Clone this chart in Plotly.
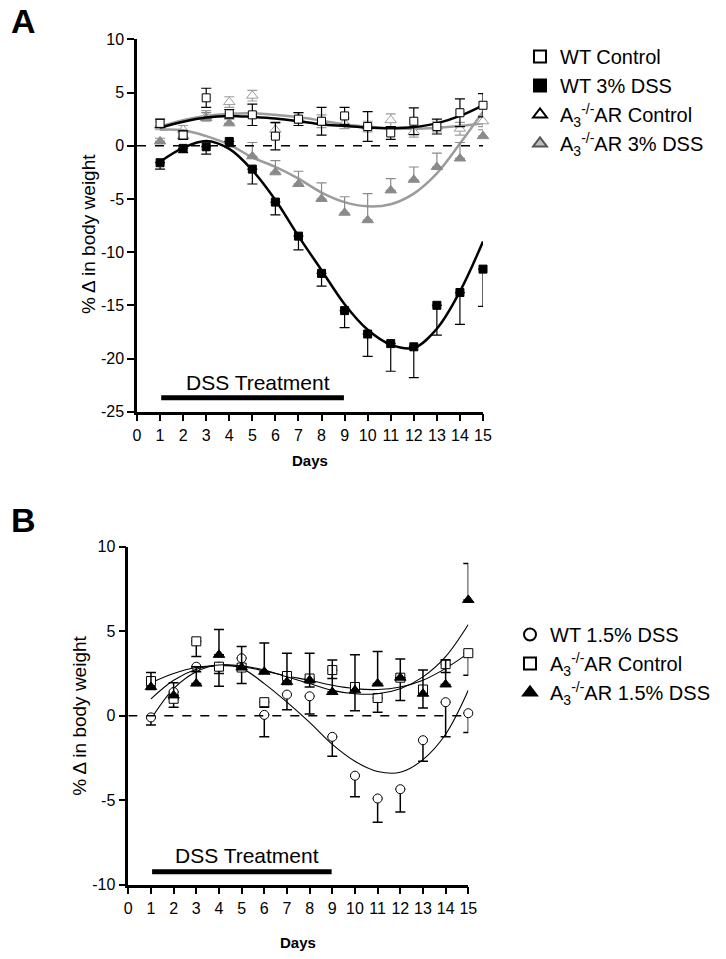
import plotly.graph_objects as go

# ---------------- data ----------------
days = list(range(1, 16))
x_ticks = list(range(0, 16))

# Panel A: means (points) and SEM
a_wt_ctrl = [2.1, 1.0, 4.5, 3.0, 2.9, 0.9, 2.5, 2.3, 2.8, 1.8, 1.2, 2.3, 1.8, 3.1, 3.8]
a_wt_ctrl_err = [0.4, 0.4, 0.9, 0.4, 1.0, 1.3, 0.6, 1.3, 0.8, 1.4, 0.6, 1.25, 0.7, 1.3, 1.1]
a_wt_dss = [-1.6, -0.25, -0.1, 0.4, -2.2, -5.3, -8.5, -12.0, -15.5, -17.7, -18.6, -18.9, -15.0, -13.8, -11.6]
a_wt_dss_err = [0.6, 0.4, 0.7, 0.5, 1.4, 1.2, 1.3, 1.2, 1.6, 2.1, 2.6, 2.9, 2.8, 3.0, 3.5]
a_ko_ctrl = [1.9, 1.5, 2.8, 4.1, 4.7, 1.5, 2.6, 2.3, 2.1, 1.8, 2.4, 1.3, 1.8, 1.6, 2.3]
a_ko_ctrl_err = [0.4, 0.4, 0.5, 0.5, 0.5, 0.6, 0.5, 0.6, 0.5, 0.5, 0.6, 0.5, 0.5, 0.6, 0.5]
a_ko_dss = [0.4, 0.9, 2.6, 2.1, -1.0, -2.5, -3.6, -5.0, -6.3, -7.0, -4.2, -3.2, -2.0, -1.2, 0.9]
a_ko_dss_err = [0.3, 0.5, 0.5, 0.4, 1.3, 1.1, 1.2, 1.5, 1.5, 2.5, 1.1, 1.2, 1.3, 1.5, 0.6]

# Panel A: fitted curves (value at each day)
a_wt_ctrl_fit = [1.7, 2.25, 2.65, 2.8, 2.7, 2.55, 2.3, 2.0, 1.85, 1.7, 1.65, 1.75, 2.1, 2.8, 3.8]
a_wt_dss_fit = [-1.5, -0.2, 0.45, -0.3, -2.3, -5.1, -8.5, -11.7, -14.9, -17.3, -18.7, -19.0, -17.2, -13.7, -9.0]
a_ko_ctrl_fit = [1.8, 2.4, 2.8, 3.0, 3.05, 2.9, 2.7, 2.35, 2.0, 1.8, 1.6, 1.6, 1.7, 1.85, 2.1]
a_ko_dss_fit = [1.5, 1.45, 0.9, 0.1, -1.1, -2.0, -3.1, -4.4, -5.3, -5.7, -5.5, -4.5, -2.6, 0.2, 3.2]

# Panel B: means and SEM
b_wt_dss = [-0.1, 1.4, 2.9, 2.9, 3.4, 0.05, 1.25, 1.15, -1.25, -3.55, -4.9, -4.35, -1.45, 0.8, 0.15]
b_wt_dss_err = [0.45, 0.4, 0.3, 0.4, 0.6, 1.3, 0.9, 1.05, 1.15, 1.25, 1.4, 1.35, 1.25, 2.05, 1.15]
b_ko_ctrl = [2.05, 1.0, 4.4, 2.9, 2.85, 0.8, 2.35, 2.2, 2.7, 1.7, 1.05, 2.25, 1.55, 3.05, 3.7]
b_ko_ctrl_err = [0.5, 0.5, 0.9, 1.15, 0.95, 0.3, 0.5, 0.5, 0.5, 1.4, 0.85, 1.35, 1.1, 0.5, 1.3]
b_ko_dss = [1.7, 1.2, 1.9, 3.6, 2.85, 2.6, 2.0, 2.1, 1.4, 1.5, 1.9, 2.25, 1.3, 1.85, 6.85]
b_ko_dss_err = [0.85, 0.75, 1.0, 1.5, 1.25, 1.7, 1.7, 1.6, 1.9, 2.1, 1.9, 1.1, 1.4, 1.45, 2.15]

# Panel B: fitted curves
b_wt_dss_fit = [-0.2, 1.6, 2.6, 3.0, 2.8, 1.9, 0.8, -0.4, -1.7, -2.7, -3.3, -3.35, -2.6, -1.1, 1.5]
b_ko_ctrl_fit = [1.95, 2.5, 2.85, 2.95, 2.9, 2.65, 2.35, 2.1, 1.8, 1.6, 1.55, 1.7, 2.1, 2.8, 3.7]
b_ko_dss_fit = [1.0, 2.1, 2.75, 3.0, 2.95, 2.7, 2.3, 1.9, 1.5, 1.3, 1.3, 1.6, 2.3, 3.5, 5.4]

a_y_ticks = [-25, -20, -15, -10, -5, 0, 5, 10]
b_y_ticks = [-10, -5, 0, 5, 10]

# treatment period
dss_start, dss_end = 1, 9

FONT = "Arial, Liberation Sans, Helvetica, sans-serif"
GRAY = "#8a8a8a"
LGRAY = "#9c9c9c"

W, H = 726, 959


def dom_x(p0, p1):
    return [p0 / W, p1 / W]


def dom_y(top_px, bot_px):
    return [1 - bot_px / H, 1 - top_px / H]


fig = go.Figure()
zeros = [0] * 15


def add_series(x_ax, y_ax, y, err, fit, direction, symbol, size, line_color,
               fill, lw_marker, err_color, err_w, fit_color, fit_w):
    if direction == "up":
        ey = dict(type="data", symmetric=False, array=err, arrayminus=zeros)
    elif direction == "down":
        ey = dict(type="data", symmetric=False, array=zeros, arrayminus=err)
    else:
        ey = dict(type="data", array=err)
    ey.update(color=err_color, thickness=err_w, width=5)
    fig.add_trace(go.Scatter(x=days, y=fit, mode="lines", xaxis=x_ax, yaxis=y_ax,
                             line=dict(color=fit_color, width=fit_w, shape="spline", smoothing=1),
                             showlegend=False, hoverinfo="skip", cliponaxis=False))
    fig.add_trace(go.Scatter(x=days, y=y, mode="markers", xaxis=x_ax, yaxis=y_ax,
                             error_y=ey, showlegend=False, cliponaxis=False,
                             marker=dict(symbol=symbol, size=size, color=fill,
                                         line=dict(color=line_color, width=lw_marker))))


# ---- Panel A ----
add_series("x", "y", a_ko_ctrl, a_ko_ctrl_err, a_ko_ctrl_fit, "both", "triangle-up", 10, LGRAY,
           "white", 1, LGRAY, 1.2, LGRAY, 2.5)
add_series("x", "y", a_ko_dss, a_ko_dss_err, a_ko_dss_fit, "up", "triangle-up", 10, GRAY,
           GRAY, 1, GRAY, 1.2, LGRAY, 2.5)
add_series("x", "y", a_wt_ctrl, a_wt_ctrl_err, a_wt_ctrl_fit, "both", "square", 8, "black",
           "white", 1, "black", 1.2, "black", 2.5)
add_series("x", "y", a_wt_dss, a_wt_dss_err, a_wt_dss_fit, "down", "square", 8, "black",
           "black", 1, "black", 1.2, "black", 2.5)

# ---- Panel B ----
add_series("x2", "y2", b_wt_dss, b_wt_dss_err, b_wt_dss_fit, "down", "circle", 9, "black",
           "white", 1, "black", 1.5, "black", 1.1)
add_series("x2", "y2", b_ko_ctrl, b_ko_ctrl_err, b_ko_ctrl_fit, "down", "square", 9, "black",
           "white", 1, "black", 1.5, "black", 1.1)
add_series("x2", "y2", b_ko_dss, b_ko_dss_err, b_ko_dss_fit, "up", "triangle-up", 10, "black",
           "black", 1, "black", 1.5, "black", 1.1)


# ---- legend-only entries ----
def leg(name, symbol, fill, line, legend):
    fig.add_trace(go.Scatter(x=[None], y=[None], mode="markers", name=name, legend=legend,
                             marker=dict(symbol=symbol, size=16, color=fill,
                                         line=dict(color=line, width=1.3))))


leg("WT Control", "square", "white", "black", "legend")
leg("WT 3% DSS", "square", "black", "black", "legend")
leg("A<sub>3</sub><sup>-/-</sup>AR Control", "triangle-up", "white", "black", "legend")
leg("A<sub>3</sub><sup>-/-</sup>AR 3% DSS", "triangle-up", "#bdbdbd", "#555555", "legend")
leg("WT 1.5% DSS", "circle", "white", "black", "legend2")
leg("A<sub>3</sub><sup>-/-</sup>AR Control", "square", "white", "black", "legend2")
leg("A<sub>3</sub><sup>-/-</sup>AR 1.5% DSS", "triangle-up", "black", "black", "legend2")

axis_common = dict(showline=True, linecolor="black", linewidth=2.5, ticks="outside",
                   ticklen=7, tickwidth=2, tickcolor="black", showgrid=False, zeroline=False,
                   automargin=False,
                   tickfont=dict(family=FONT, size=16, color="black"))

fig.update_layout(
    width=W, height=H, margin=dict(l=0, r=0, t=0, b=0, autoexpand=False),
    paper_bgcolor="white", plot_bgcolor="white",
    font=dict(family=FONT, color="black"),
    xaxis=dict(domain=dom_x(137, 483), range=[0, 15], tickvals=x_ticks, anchor="y", **axis_common),
    yaxis=dict(domain=dom_y(39.3, 411.7), range=[-25, 10], tickvals=a_y_ticks,
               ticktext=[str(v) for v in a_y_ticks], anchor="x", **axis_common),
    xaxis2=dict(domain=dom_x(128.3, 468.3), range=[0, 15], tickvals=x_ticks, anchor="y2", **axis_common),
    yaxis2=dict(domain=dom_y(546.7, 884.7), range=[-10, 10], tickvals=b_y_ticks,
                ticktext=[str(v) for v in b_y_ticks], anchor="x2", **axis_common),
    legend=dict(x=520 / W, y=1 - 37 / H, xanchor="left", yanchor="top",
                font=dict(family=FONT, size=20, color="black"), bgcolor="rgba(0,0,0,0)",
                itemsizing="constant", tracegroupgap=0),
    legend2=dict(x=510 / W, y=1 - 615 / H, xanchor="left", yanchor="top",
                 font=dict(family=FONT, size=20, color="black"), bgcolor="rgba(0,0,0,0)",
                 itemsizing="constant", tracegroupgap=0),
    showlegend=True,
)

# zero lines & treatment bars
for xr, yr, ybar, ytxt in [("x", "y", -23.7, -22.3), ("x2", "y2", -9.23, -8.3)]:
    fig.add_shape(type="line", xref=xr, yref=yr, x0=0, x1=15, y0=0, y1=0,
                  line=dict(color="black", width=1.5, dash="dash"))
    fig.add_shape(type="line", xref=xr, yref=yr, x0=dss_start + 0.05, x1=dss_end - 0.03,
                  y0=ybar, y1=ybar, line=dict(color="black", width=5))
    fig.add_annotation(xref=xr, yref=yr, x=(dss_start + dss_end) / 2 + 0.25, y=ytxt,
                       text="DSS Treatment", showarrow=False, xanchor="center", yanchor="middle",
                       font=dict(family=FONT, size=21, color="black"))

# axis titles & panel letters
for xpx, ypx in [(88, 234), (80, 715.7)]:
    fig.add_annotation(xref="paper", yref="paper", x=xpx / W, y=1 - ypx / H,
                       text="% Δ in body weight", textangle=-90, showarrow=False,
                       xanchor="center", yanchor="middle",
                       font=dict(family=FONT, size=19, color="black"))
for xpx, ypx in [(310, 460), (298, 942)]:
    fig.add_annotation(xref="paper", yref="paper", x=xpx / W, y=1 - ypx / H,
                       text="<b>Days</b>", showarrow=False, xanchor="center", yanchor="middle",
                       font=dict(family=FONT, size=15, color="black"))
for txt, ypx in [("A", 21), ("B", 520)]:
    fig.add_annotation(xref="paper", yref="paper", x=23 / W, y=1 - ypx / H,
                       text=f"<b>{txt}</b>", showarrow=False, xanchor="center", yanchor="middle",
                       font=dict(family=FONT, size=34, color="black"))

fig.write_html("out.html", config={"displayModeBar": False},
               post_script="document.body.style.margin='0px';")
